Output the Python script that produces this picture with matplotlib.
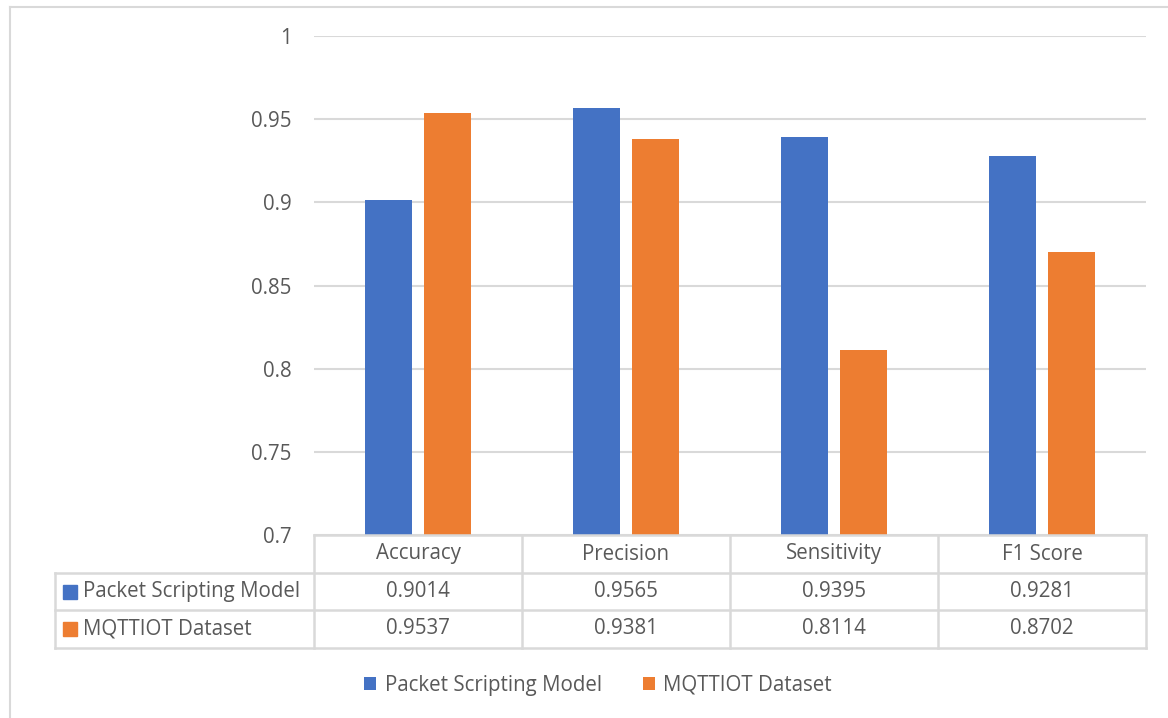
import matplotlib
matplotlib.use("Agg")
import matplotlib.pyplot as plt
from matplotlib.lines import Line2D
from matplotlib.patches import Rectangle

categories = ["Accuracy", "Precision", "Sensitivity", "F1 Score"]
series_names = ["Packet Scripting Model", "MQTTIOT Dataset"]
psm_values = [0.9014, 0.9565, 0.9395, 0.9281]
mqtt_values = [0.9537, 0.9381, 0.8114, 0.8702]
yticks = [0.7, 0.75, 0.8, 0.85, 0.9, 0.95, 1.0]
ytick_labels = ["0.7", "0.75", "0.8", "0.85", "0.9", "0.95", "1"]

BLUE = "#4472C4"
ORANGE = "#ED7D31"
GRID = "#D9D9D9"
TXT = "#595959"
FONT = "Open Sans"
FS = 14.8

W, H = 1168, 718
fig = plt.figure(figsize=(W / 100, H / 100), dpi=100)
plt.rcParams["font.family"] = [FONT, "DejaVu Sans"]

def fx(x):
    return x / W

def fy(y):
    return 1 - y / H

L, R, T, B = 314, 1146, 36, 535
ax = fig.add_axes([fx(L), fy(B), fx(R) - fx(L), fy(T) - fy(B)])
n = len(categories)
centers = [i + 0.5 for i in range(n)]
bw = 0.222
off = 0.142
b1 = ax.bar([c - off for c in centers], psm_values, width=bw, color=BLUE, label=series_names[0], zorder=3)
b2 = ax.bar([c + off for c in centers], mqtt_values, width=bw, color=ORANGE, label=series_names[1], zorder=3)
ax.set_xlim(0, n)
ax.set_ylim(0.7, 1.0)
ax.set_yticks(yticks)
ax.set_yticklabels(ytick_labels, fontsize=FS, color=TXT)
ax.tick_params(axis="y", length=0, pad=16)
ax.set_xticks([])
ax.grid(axis="y", color=GRID, linewidth=1.5, zorder=0)
for s in ax.spines.values():
    s.set_visible(False)

# Outer chart border (top and left)
fig.add_artist(Line2D([fx(10), fx(1168)], [fy(7), fy(7)], color=GRID, lw=1.5))
fig.add_artist(Line2D([fx(10), fx(10)], [fy(7), fy(718)], color=GRID, lw=1.5))

# Data table
lc = dict(color=GRID, lw=1.8)
row_y = [535, 573, 610, 648]
col_x = [L + (R - L) * i / n for i in range(n + 1)]
tl = 55
fig.add_artist(Line2D([fx(L), fx(R)], [fy(row_y[0])] * 2, **lc))
for yy in row_y[1:]:
    fig.add_artist(Line2D([fx(tl), fx(R)], [fy(yy)] * 2, **lc))
for xx in col_x:
    fig.add_artist(Line2D([fx(xx)] * 2, [fy(row_y[0]), fy(row_y[-1])], **lc))
fig.add_artist(Line2D([fx(tl)] * 2, [fy(row_y[1]), fy(row_y[-1])], **lc))

for i, cat in enumerate(categories):
    cx = (col_x[i] + col_x[i + 1]) / 2
    fig.text(fx(cx), fy((row_y[0] + row_y[1]) / 2), cat, ha="center", va="center", fontsize=FS, color=TXT)
for r, (vals, col, name) in enumerate([(psm_values, BLUE, series_names[0]), (mqtt_values, ORANGE, series_names[1])]):
    ymid = (row_y[r + 1] + row_y[r + 2]) / 2
    for i, v in enumerate(vals):
        cx = (col_x[i] + col_x[i + 1]) / 2
        fig.text(fx(cx), fy(ymid), f"{v:.4f}", ha="center", va="center", fontsize=FS, color=TXT)
    fig.add_artist(Rectangle((fx(63), fy(ymid + 7)), fx(14), fy(0) - fy(14), color=col, transform=fig.transFigure))
    fig.text(fx(83), fy(ymid), name, ha="left", va="center", fontsize=FS, color=TXT)

fig.legend(handles=[b1, b2], loc="center", bbox_to_anchor=(fx(598), fy(685)), ncol=2, frameon=False,
           fontsize=FS, handlelength=0.6, handleheight=0.6, handletextpad=0.4, columnspacing=2.0,
           labelcolor=TXT)

fig.savefig("out.png", dpi=100)
